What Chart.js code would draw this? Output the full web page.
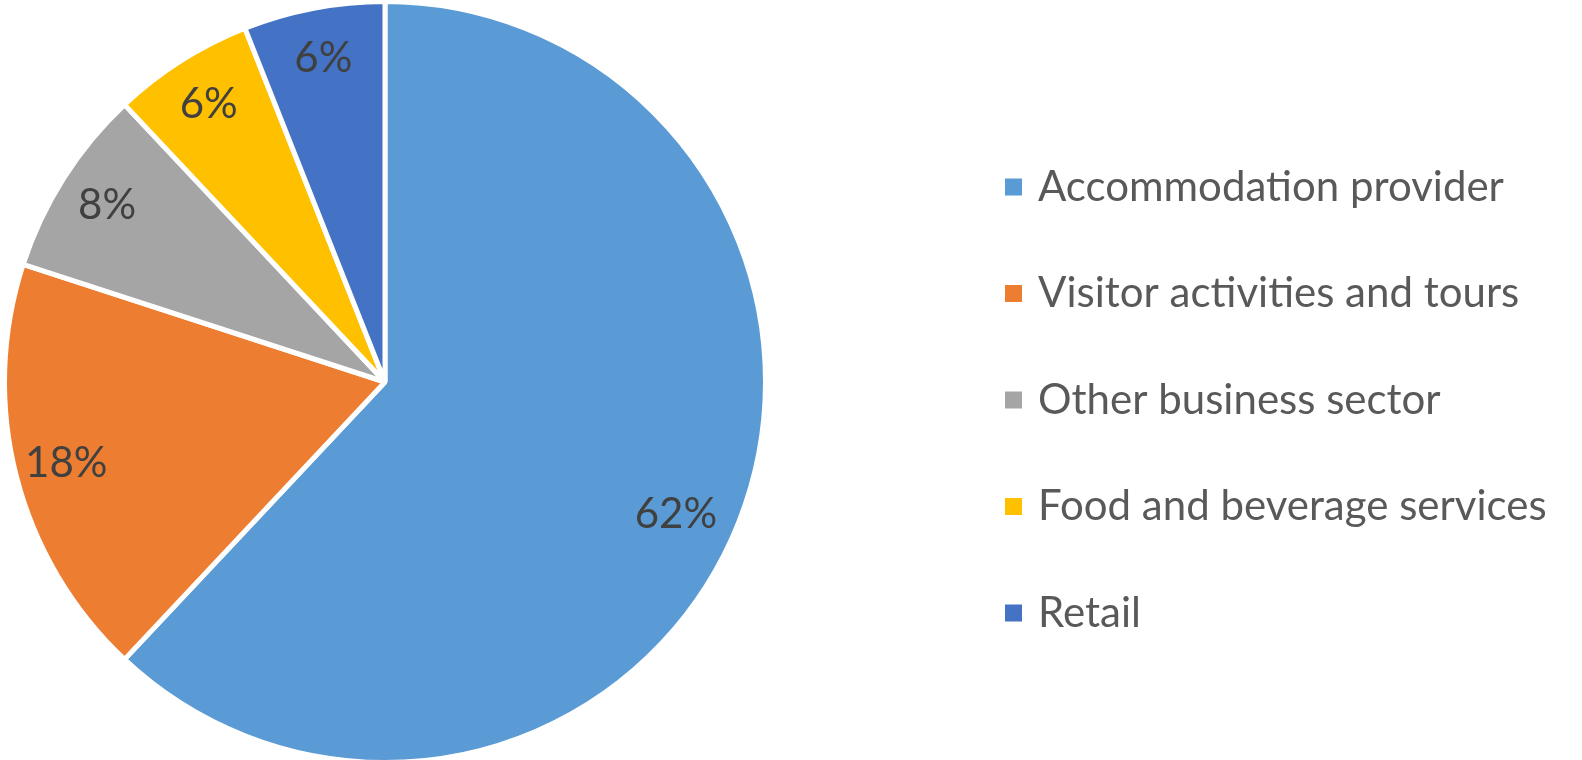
<!DOCTYPE html>
<html>
<head>
<meta charset="utf-8">
<script src="https://cdn.jsdelivr.net/npm/chart.js@4/dist/chart.umd.min.js"></script>
<style>
  html, body { margin: 0; padding: 0; background: #fff; overflow: hidden; }
  body { width: 1582px; height: 760px; position: relative; }
  /* canvas a bit taller than the window so the pie can touch top and bottom */
  #wrap { width: 1582px; height: 770px; position: absolute; left: 0; top: -4px; }
</style>
</head>
<body>
<div id="wrap"><canvas id="pieChart"></canvas></div>
<script>
const categories = ['Accommodation provider', 'Visitor activities and tours', 'Other business sector', 'Food and beverage services', 'Retail'];
const shares = [62, 18, 8, 6, 6];
const sliceColors = ['#5B9BD5', '#ED7D31', '#A5A5A5', '#FFC000', '#4472C4'];

const FONT = 'Lato, "Open Sans", sans-serif';
const TOP_SHIFT = 4;

// percent labels inside each slice
const sliceLabels = {
    id: 'sliceLabels',
    afterDatasetsDraw(chart) {
        const ctx = chart.ctx;
        const meta = chart.getDatasetMeta(0);
        ctx.save();
        ctx.font = '42px ' + FONT;
        ctx.fillStyle = '#404040';
        ctx.textAlign = 'center';
        ctx.textBaseline = 'middle';
        meta.data.forEach((arc, i) => {
            const p = arc.getProps(['x', 'y', 'startAngle', 'endAngle', 'outerRadius'], true);
            // big slice label sits a bit further round in the reference
            const mid = (p.startAngle + p.endAngle) / 2 + (i === 0 ? 0.05 : 0);
            const r = p.outerRadius * (i === 0 ? 0.84 : 0.865);
            ctx.fillText(shares[i] + '%', p.x + Math.cos(mid) * r, p.y + Math.sin(mid) * r);
        });
        ctx.restore();
    }
};

// legend drawn on the right side
const sideLegend = {
    id: 'sideLegend',
    afterDraw(chart) {
        const ctx = chart.ctx;
        ctx.save();
        ctx.font = '42px ' + FONT;
        ctx.textBaseline = 'middle';
        categories.forEach((name, i) => {
            const y = 187 + TOP_SHIFT + i * 106.5;
            ctx.fillStyle = sliceColors[i];
            ctx.fillRect(1005, y - 8.5, 17, 17);
            ctx.fillStyle = '#595959';
            ctx.fillText(name, 1038, y);
        });
        ctx.restore();
    }
};

new Chart(document.getElementById('pieChart'), {
    type: 'pie',
    data: {
        labels: categories,
        datasets: [{
            data: shares,
            backgroundColor: sliceColors,
            borderColor: '#ffffff',
            borderWidth: 5
        }]
    },
    options: {
        responsive: true,
        maintainAspectRatio: false,
        animation: false,
        layout: { padding: { left: 2, top: 3, right: 814, bottom: 1 } },
        plugins: {
            legend: { display: false },
            tooltip: { enabled: false }
        }
    },
    plugins: [sliceLabels, sideLegend]
});
</script>
</body>
</html>
